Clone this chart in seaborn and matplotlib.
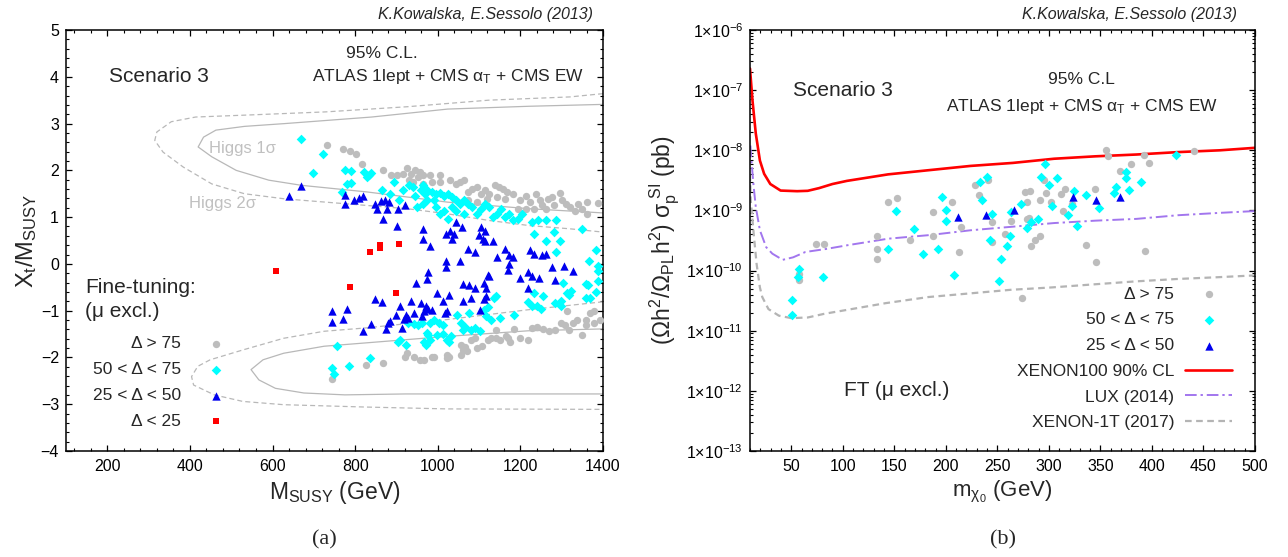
import math
import matplotlib
matplotlib.use("Agg")
import matplotlib.pyplot as plt
import seaborn as sns
from matplotlib.ticker import MultipleLocator, LogLocator, FuncFormatter, NullFormatter

# ---------------- data: panel (a) ----------------
gray_x = [732, 771, 788, 801, 816, 867, 886, 901, 916, 926, 936, 946, 956, 951, 965, 980, 1005,
          931, 941, 965, 985, 1005, 1029, 1044, 1054, 1064, 1074, 1084, 1094, 1104, 1114, 1123,
          1138, 1148, 1158, 1168, 1143, 1163, 1183, 1198, 1213, 1223, 1237, 1247, 1267, 1277,
          1296, 1301, 1311, 1321, 1331, 1340, 1350, 1360, 1389, 1360, 1281, 1262, 1252, 1232,
          1213, 1193, 1074, 1094, 1119,
          743, 826, 867, 921, 926, 943, 958, 987, 992, 1022, 1027, 1056, 1061, 1071, 1056, 1066,
          1081, 1091, 1106, 1121, 1130, 1140, 1150, 1165, 1170, 1175, 1185, 1200, 1219, 1229,
          1239, 1254, 1269, 1284, 1299, 1308, 1318, 1313, 1338, 1348, 1358, 1368, 1378, 1392,
          1358, 1328, 1378, 1140, 1096, 1022, 967]
gray_y = [2.55, 2.45, 2.41, 2.36, 2.13, 2.0, 1.89, 1.89, 1.93, 2.04, 1.93, 2.0, 1.96, 1.86, 1.89,
          1.91, 1.89, 1.79, 1.75, 1.71, 1.75, 1.75, 1.79, 1.71, 1.75, 1.79, 1.54, 1.61, 1.64, 1.5,
          1.57, 1.5, 1.68, 1.64, 1.61, 1.54, 1.43, 1.39, 1.5, 1.36, 1.46, 1.32, 1.5, 1.36, 1.39,
          1.43, 1.51, 1.36, 1.29, 1.21, 1.14, 1.27, 1.18, 1.07, 1.31, 1.32, 1.25, 1.18, 1.25,
          1.18, 1.18, 1.18, 1.36, 1.32, 1.39,
          -2.46, -2.16, -2.12, -1.99, -1.91, -1.99, -2.05, -1.99, -1.98, -1.94, -1.99, -1.94,
          -1.84, -1.87, -1.73, -1.78, -1.62, -1.59, -1.75, -1.62, -1.59, -1.41, -1.62, -1.55,
          -1.59, -1.66, -1.39, -1.59, -1.62, -1.37, -1.34, -1.39, -1.44, -1.42, -1.26, -1.3,
          -1.41, -1.01, -1.19, -1.51, -1.19, -1.05, -1.01, -1.19, -1.3, -1.26, -1.26, -1.59,
          -1.8, -2.01, -2.05]

cyan_x = [670, 722, 699, 776, 790, 780, 790, 821, 833, 838, 828, 768, 894, 865, 884, 916, 906,
          931, 941, 946, 960, 965, 975, 970, 985, 995, 990, 1005, 1015, 1024, 1034, 1044, 950,
          965, 975, 995, 1005, 1015, 1024, 1034, 1044, 1054, 1064, 1074, 1064, 1084, 1094, 1104,
          1114, 1123, 1133, 1143, 1153, 1163, 1173, 1183, 1193, 1203, 1228, 1242, 1262, 1286,
          1232, 1262, 1282, 1297, 1349, 1286, 1384, 1365, 1389,
          928, 908, 923, 903, 943, 953, 963, 973, 977, 967, 972, 982, 982, 992, 997, 1002, 1012,
          1012, 1022, 1027, 1032, 1046, 1056, 1061, 1066, 1076, 1081, 1091, 1101, 1111, 1116,
          1121, 1130, 1135, 1140, 1150, 1185, 1219, 1229, 1239, 1249, 1254, 1303, 1313, 1323,
          1318, 1299, 1358, 1363, 1358, 1368, 1383, 1387, 1387, 755, 745, 750, 785, 836, 1234,
          1284, 1299]
cyan_y = [2.68, 2.34, 1.95, 2.0, 1.99, 1.71, 1.73, 1.96, 1.89, 1.94, 1.86, 1.54, 1.75, 1.59,
          1.49, 1.57, 1.36, 1.68, 1.64, 1.46, 1.57, 1.68, 1.57, 1.5, 1.54, 1.5, 1.36, 1.51, 1.46,
          1.5, 1.43, 1.36, 1.21, 1.29, 1.36, 1.21, 1.07, 1.14, 0.96, 1.21, 1.14, 1.29, 1.36,
          1.29, 1.07, 1.21, 1.07, 1.18, 1.29, 1.21, 1.0, 1.07, 1.18, 1.0, 1.07, 0.93, 0.96, 1.07,
          0.89, 0.93, 0.93, 0.93, 0.64, 0.5, 0.68, 0.5, 0.75, 0.25, 0.29, 0.07, -0.04,
          -1.26, -1.62, -1.73, -1.66, -1.28, -1.3, -1.26, -1.48, -1.51, -1.66, -1.73, -1.62,
          -1.26, -1.19, -1.51, -1.26, -1.3, -1.49, -1.62, -1.66, -1.55, -1.09, -1.26, -1.41,
          -1.34, -1.04, -1.41, -1.37, -1.44, -0.98, -1.12, -0.92, -1.19, -0.73, -0.69, -1.16,
          -1.09, -0.82, -0.91, -0.91, -0.96, -0.69, -0.41, -0.62, -0.59, -0.66, -0.91, -0.42,
          -0.46, -0.73, -0.73, -0.61, -0.16, -0.37, -1.76, -2.23, -2.35, -2.19, -2.01, -0.62,
          -0.84, -0.8]

blue_x = [640, 670, 776, 776, 798, 810, 818, 847, 852, 862, 872, 882, 877, 904, 921, 867, 901,
          965, 965, 980, 1020, 1030, 1039, 1044, 1059, 1034, 1074, 1089, 1099, 1104, 1114, 1109,
          1114, 1133, 1163, 1173, 1183, 1143, 1222, 1232, 1252, 1262, 1277, 1306, 1020, 1020,
          1054, 1173,
          948, 973, 977, 1061, 1076, 1091, 1111, 1116, 1125, 1121, 1170, 1200, 1219, 1229, 1244,
          1284, 1328, 1219, 743, 745, 770, 780, 819, 839, 849, 864, 879, 874, 884, 898, 908,
          918, 923, 928, 935, 960, 967, 972, 977, 987, 997, 1012, 1017, 1022, 1027, 1061, 1081,
          1101, 1111, 1116, 913, 963, 943]
blue_y = [1.46, 1.66, 1.48, 1.27, 1.36, 1.41, 1.46, 1.29, 1.18, 1.34, 1.36, 1.32, 1.18, 1.18,
          1.25, 0.96, 0.82, 0.75, 0.54, 0.39, 0.64, 0.71, 0.64, 0.89, 0.79, 0.54, 0.32, 0.25,
          0.61, 0.79, 0.71, 0.54, 0.5, 0.5, 0.32, 0.18, 0.14, 0.14, 0.29, 0.21, 0.18, 0.21,
          -0.07, -0.04, 0.07, -0.07, 0.07, 0.0,
          -0.41, -0.32, -0.18, -0.44, -0.46, -0.51, -0.41, -0.51, -0.26, -0.23, -0.12, -0.3,
          -0.18, -0.26, -0.3, -0.34, -0.16, -0.51, -1.01, -1.25, -1.18, -0.96, -1.44, -1.28,
          -0.76, -0.82, -1.26, -1.39, -1.23, -1.09, -0.89, -1.18, -1.09, -1.16, -0.8, -0.84,
          -1.01, -0.89, -0.96, -0.98, -0.62, -0.8, -1.05, -1.01, -0.66, -0.8, -0.73, -0.98,
          -0.76, -0.68, -1.37, -1.12, -1.05]

red_x = [835, 859, 861, 906, 609, 788, 898]
red_y = [0.26, 0.34, 0.41, 0.43, -0.16, -0.49, -0.62]

# Higgs contours
h1_up_x = [1400, 1221, 1024, 840, 630, 532, 463, 433, 420, 453, 512, 591, 670, 827, 926, 1024,
           1123, 1221, 1320, 1400]
h1_up_y = [3.41, 3.37, 3.31, 3.14, 3.0, 2.94, 2.86, 2.71, 2.5, 2.29, 2.0, 1.79, 1.68, 1.54, 1.43,
           1.32, 1.25, 1.18, 1.13, 1.09]
h2_up_x = [1400, 1320, 1123, 926, 729, 532, 414, 355, 320, 315, 335, 384, 453, 532, 630, 729,
           926, 1024, 1123, 1221, 1320, 1400]
h2_up_y = [3.64, 3.57, 3.5, 3.36, 3.25, 3.18, 3.14, 3.04, 2.82, 2.64, 2.39, 2.07, 1.71, 1.5,
           1.39, 1.32, 1.18, 1.07, 0.93, 0.82, 0.75, 0.68]
h1_lo_x = [1400, 1219, 1022, 923, 824, 725, 627, 577, 548, 567, 607, 676, 775, 923, 1120, 1400]
h1_lo_y = [-1.39, -1.43, -1.55, -1.62, -1.69, -1.76, -1.91, -2.05, -2.26, -2.48, -2.66, -2.76,
           -2.8, -2.78, -2.78, -2.78]
h2_lo_x = [1400, 1219, 1022, 824, 725, 627, 528, 449, 419, 404, 409, 459, 528, 627, 824, 1022,
           1400]
h2_lo_y = [-0.81, -0.98, -1.19, -1.37, -1.44, -1.59, -1.84, -2.05, -2.19, -2.41, -2.59, -2.8,
           -2.94, -3.01, -3.06, -3.1, -3.11]

# ---------------- data: panel (b) ----------------
r_gray_x = [355, 357, 392, 397, 380, 441, 369, 393, 144, 153, 206, 188, 215, 213, 228, 232, 241,
            245, 257, 263, 277, 279, 282, 291, 295, 297, 302, 312, 316, 322, 336, 345, 346, 314,
            279, 281, 283, 291, 287, 133, 133, 133, 74, 82, 188, 165, 245, 58, 58, 274]
r_gray_y = [1.02e-8, 7.9e-9, 8.5e-9, 6.2e-9, 5.9e-9, 9.8e-9, 4.6e-9, 2.1e-10, 1.4e-9, 1.6e-9,
            1.4e-9, 9.5e-10, 5.4e-10, 2.0e-10, 2.6e-9, 1.8e-9, 3.2e-9, 6.5e-10, 4.1e-10, 6.8e-10,
            2.0e-9, 1.4e-9, 2.1e-9, 1.5e-9, 3.2e-9, 1.95e-9, 1.4e-9, 1.9e-9, 2.3e-9, 1.26e-9,
            2.7e-10, 2.3e-9, 1.4e-10, 9.8e-10, 7.2e-10, 7.6e-10, 2.6e-10, 3.8e-10, 3.2e-10,
            3.8e-10, 2.3e-10, 1.55e-10, 2.75e-10, 2.75e-10, 3.8e-10, 3.2e-10, 3.0e-10, 8.7e-11,
            6.9e-11, 3.5e-11]
r_cyan_x = [58, 81, 152, 169, 144, 178, 192, 196, 200, 200, 233, 235, 240, 245, 243, 254, 259,
            262, 263, 273, 279, 283, 289, 292, 296, 300, 303, 308, 319, 322, 324, 327, 336, 349,
            363, 365, 375, 375, 378, 389, 423, 51, 51, 57, 208, 252]
r_cyan_y = [1.07e-10, 7.8e-11, 9.8e-10, 4.9e-10, 2.3e-10, 1.9e-10, 2.3e-10, 1.66e-9, 1.02e-9,
            6.6e-10, 2.95e-9, 1.5e-9, 3.6e-9, 8.7e-10, 3.2e-10, 1.55e-10, 2.6e-10, 3.8e-10,
            9.3e-10, 1.3e-9, 5.2e-10, 6.5e-10, 7.2e-10, 3.6e-9, 6.0e-9, 2.6e-9, 1.17e-9, 3.4e-9,
            8.3e-10, 1.2e-9, 2.1e-9, 5.6e-10, 1.8e-9, 1.1e-9, 1.95e-9, 2.45e-9, 3.4e-9, 4.4e-9,
            2.2e-9, 2.95e-9, 8.5e-9, 3.2e-11, 1.8e-11, 7.8e-11, 8.3e-11, 6.6e-11]
r_blue_x = [212, 239, 266, 323, 346, 369]
r_blue_y = [7.9e-10, 8.3e-10, 1.0e-9, 1.66e-9, 1.5e-9, 1.7e-9]

xenon100_x = [10, 12.4, 15.6, 19.6, 23.7, 29.7, 39.7, 55.8, 66, 77, 90, 104, 144, 184, 224, 265,
              305, 345, 385, 425, 466, 500]
xenon100_y = [2.29e-7, 6.76e-8, 1.91e-8, 6.76e-9, 4.07e-9, 2.75e-9, 2.14e-9, 2.09e-9, 2.12e-9,
              2.35e-9, 2.75e-9, 3.1e-9, 3.98e-9, 4.68e-9, 5.5e-9, 6.17e-9, 7.24e-9, 7.94e-9,
              8.51e-9, 9.33e-9, 1.0e-8, 1.10e-8]
lux_x = [10.4, 11.6, 13.6, 15.6, 19.6, 25.7, 31.7, 41.7, 51.8, 63.8, 84, 104, 144, 184, 224, 265,
         305, 345, 385, 425, 466, 500]
lux_y = [1.2e-8, 6.03e-9, 2.45e-9, 1.15e-9, 4.68e-10, 2.45e-10, 1.91e-10, 1.51e-10, 1.66e-10,
         2.04e-10, 2.29e-10, 2.63e-10, 3.39e-10, 3.89e-10, 4.68e-10, 5.37e-10, 6.17e-10,
         6.76e-10, 7.24e-10, 8.32e-10, 9.12e-10, 9.77e-10]
x1t_x = [10.0, 10.7, 13.6, 16.4, 19.6, 21.9, 27.9, 38, 50, 66, 82, 102, 142, 183, 223, 263, 303,
         343, 384, 424, 464, 500]
x1t_y = [4.0e-9, 1.48e-9, 4.07e-10, 1.29e-10, 5.25e-11, 3.63e-11, 2.29e-11, 1.78e-11, 1.62e-11,
         1.66e-11, 1.91e-11, 2.19e-11, 2.88e-11, 3.63e-11, 4.17e-11, 4.79e-11, 5.25e-11,
         5.89e-11, 6.61e-11, 7.24e-11, 7.76e-11, 8.32e-11]

lab_gray = "Δ > 75"
lab_cyan = "50 < Δ < 75"
lab_blue = "25 < Δ < 50"
lab_red = "Δ < 25"
lab_x100 = "XENON100 90% CL"
lab_lux = "LUX (2014)"
lab_x1t = "XENON-1T (2017)"

# ---------------- style ----------------
sns.set_theme(style="ticks")
plt.rcParams["font.family"] = ["Liberation Sans", "DejaVu Sans"]
plt.rcParams.update({
    "mathtext.fontset": "custom",
    "mathtext.rm": "Liberation Sans",
    "mathtext.it": "Liberation Sans:italic",
    "mathtext.bf": "Liberation Sans:bold",
    "xtick.direction": "in", "ytick.direction": "in",
    "xtick.top": True, "ytick.right": True,
    "xtick.major.size": 4.5, "ytick.major.size": 4.5,
    "xtick.minor.size": 2.3, "ytick.minor.size": 2.3,
    "xtick.major.width": 0.9, "ytick.major.width": 0.9,
    "xtick.minor.width": 0.8, "ytick.minor.width": 0.8,
    "axes.linewidth": 1.1, "axes.edgecolor": "black",
    "xtick.color": "black", "ytick.color": "black",
    "xtick.labelsize": 11.5, "ytick.labelsize": 11.5,
    "xtick.major.pad": 6, "ytick.major.pad": 5,
})

GRAY = "#bdbdbd"
CYAN = "#00ffff"
BLUE = "#0000ee"
RED = "#ff0000"
CONT = "#b8b8b8"

fig = plt.figure(figsize=(12.88, 5.57), dpi=100)
ax1 = fig.add_axes([0.0512, 0.1903, 0.417, 0.7558])
ax2 = fig.add_axes([0.5823, 0.1903, 0.3921, 0.7558])

# ---------------- panel (a) ----------------
for cx, cy, ls in [(h1_up_x, h1_up_y, "-"), (h2_up_x, h2_up_y, (0, (4, 2.5))),
                   (h1_lo_x, h1_lo_y, "-"), (h2_lo_x, h2_lo_y, (0, (4, 2.5)))]:
    sns.lineplot(x=cx, y=cy, sort=False, estimator=None, ax=ax1, color=CONT, lw=0.9,
                 linestyle=ls, zorder=1)

sns.scatterplot(x=gray_x, y=gray_y, ax=ax1, color=GRAY, marker="o", s=28, linewidth=0,
                label=lab_gray, zorder=3)
sns.scatterplot(x=cyan_x, y=cyan_y, ax=ax1, color=CYAN, marker="D", s=24, linewidth=0,
                label=lab_cyan, zorder=4)
sns.scatterplot(x=blue_x, y=blue_y, ax=ax1, color=BLUE, marker="^", s=36, linewidth=0,
                label=lab_blue, zorder=5)
sns.scatterplot(x=red_x, y=red_y, ax=ax1, color=RED, marker="s", s=16, linewidth=0,
                label=lab_red, zorder=6)

ax1.set_xlim(100, 1400)
ax1.set_ylim(-4, 5)
ax1.xaxis.set_major_locator(MultipleLocator(200))
ax1.xaxis.set_minor_locator(MultipleLocator(40))
ax1.yaxis.set_major_locator(MultipleLocator(1))
ax1.yaxis.set_minor_locator(MultipleLocator(0.2))
ax1.set_xlabel(r"$\mathregular{M_{SUSY}}$ (GeV)", fontsize=16.5, labelpad=3)
ax1.set_ylabel(r"$\mathregular{X_t/M_{SUSY}}$", fontsize=17, labelpad=1)

ax1.text(325, 4.0, "Scenario 3", fontsize=15, ha="center", va="center")
ax1.text(864, 4.5, "95% C.L.", fontsize=12.5, ha="center", va="center")
ax1.text(1025, 4.0, r"ATLAS 1lept + CMS $\mathregular{α_T}$ + CMS EW", fontsize=12.5,
         ha="center", va="center")
ax1.text(527, 2.46, "Higgs 1σ", fontsize=12, color="#c0c0c0", ha="center", va="center")
ax1.text(478, 1.29, "Higgs 2σ", fontsize=12, color="#c0c0c0", ha="center", va="center")
ax1.text(147, -0.51, "Fine-tuning:", fontsize=15, ha="left", va="center")
ax1.text(147, -1.01, "(μ excl.)", fontsize=15, ha="left", va="center")
ax1.text(0.981, 1.036, "K.Kowalska, E.Sessolo (2013)", transform=ax1.transAxes, fontsize=11.5,
         style="italic", ha="right", va="center")

h, l = ax1.get_legend_handles_labels()
d = dict(zip(l, h))
order = [lab_gray, lab_cyan, lab_blue, lab_red]
ax1.legend([d[k] for k in order], order, loc="upper right", bbox_to_anchor=(0.34, 0.31),
           frameon=False, markerfirst=False, fontsize=12.5, handlelength=2.0,
           handletextpad=1.0, labelspacing=0.62, borderpad=0.4)

# ---------------- panel (b) ----------------
ax2.set_yscale("log")
sns.lineplot(x=xenon100_x, y=xenon100_y, sort=False, estimator=None, ax=ax2, color=RED,
             lw=1.9, label=lab_x100, zorder=2)
sns.lineplot(x=lux_x, y=lux_y, sort=False, estimator=None, ax=ax2, color="#a276ee", lw=1.4,
             linestyle=(0, (6, 2, 1.2, 2)), label=lab_lux, zorder=2)
sns.lineplot(x=x1t_x, y=x1t_y, sort=False, estimator=None, ax=ax2, color="#b4b4b4", lw=1.6,
             linestyle=(0, (3, 2)), label=lab_x1t, zorder=2)
sns.scatterplot(x=r_gray_x, y=r_gray_y, ax=ax2, color=GRAY, marker="o", s=28, linewidth=0,
                label=lab_gray, zorder=3)
sns.scatterplot(x=r_cyan_x, y=r_cyan_y, ax=ax2, color=CYAN, marker="D", s=24, linewidth=0,
                label=lab_cyan, zorder=4)
sns.scatterplot(x=r_blue_x, y=r_blue_y, ax=ax2, color=BLUE, marker="^", s=36, linewidth=0,
                label=lab_blue, zorder=5)

ax2.set_xlim(10, 500)
ax2.set_ylim(1e-13, 1e-6)
ax2.xaxis.set_major_locator(MultipleLocator(50))
ax2.xaxis.set_minor_locator(MultipleLocator(10))
ax2.yaxis.set_major_locator(LogLocator(base=10, numticks=20))
ax2.yaxis.set_minor_locator(LogLocator(base=10, subs=range(2, 10), numticks=100))
ax2.yaxis.set_minor_formatter(NullFormatter())
ax2.yaxis.set_major_formatter(FuncFormatter(
    lambda v, p: r"$\mathregular{1{\times}10^{%d}}$" % round(math.log10(v))))
ax2.set_xlabel(r"$\mathregular{m_{χ_0}}$ (GeV)", fontsize=16, labelpad=3)
ax2.set_ylabel(r"$\mathregular{(Ωh^2/Ω_{PL}h^2)\ σ_p^{\ SI}\ (pb)}$", fontsize=16.5, labelpad=3)

ax2.text(100, 1e-7, "Scenario 3", fontsize=15, ha="center", va="center")
ax2.text(332, 1.5e-7, "95% C.L", fontsize=12.5, ha="center", va="center")
ax2.text(332, 5.3e-8, r"ATLAS 1lept + CMS $\mathregular{α_T}$ + CMS EW", fontsize=12.5,
         ha="center", va="center")
ax2.text(152, 1e-12, "FT (μ excl.)", fontsize=15, ha="center", va="center")
ax2.text(0.965, 1.036, "K.Kowalska, E.Sessolo (2013)", transform=ax2.transAxes, fontsize=11.5,
         style="italic", ha="right", va="center")

h, l = ax2.get_legend_handles_labels()
d = dict(zip(l, h))
order = [lab_gray, lab_cyan, lab_blue, lab_x100, lab_lux, lab_x1t]
ax2.legend([d[k] for k in order], order, loc="upper right", bbox_to_anchor=(0.986, 0.428),
           frameon=False, markerfirst=False, fontsize=12.5, handlelength=2.7,
           handletextpad=0.65, labelspacing=0.61, borderpad=0.4)

fig.text(0.252, 0.031, "(a)", fontsize=16, family="Liberation Serif", ha="center", va="center")
fig.text(0.779, 0.031, "(b)", fontsize=16, family="Liberation Serif", ha="center", va="center")

fig.savefig("out.png", dpi=100)
